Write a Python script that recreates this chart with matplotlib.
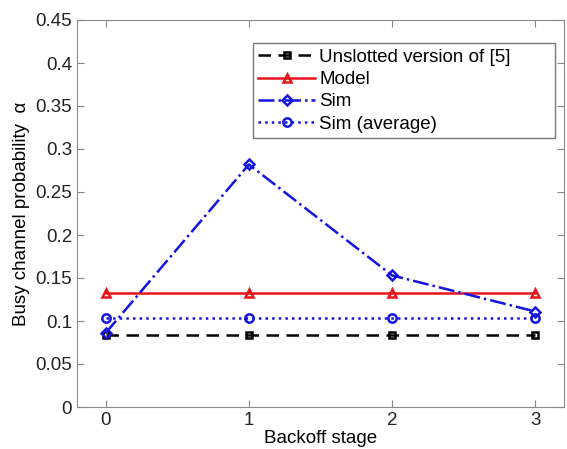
import numpy as np
from matplotlib import pyplot as plt

plt.rcParams['font.family'] = ['Liberation Sans', 'DejaVu Sans']

# backoff stages and busy channel probabilities
stages = [0, 1, 2, 3]
unslotted = [0.084, 0.084, 0.084, 0.084]
model = [0.132, 0.132, 0.132, 0.132]
sim = [0.086, 0.282, 0.153, 0.111]
sim_avg = [0.103, 0.103, 0.103, 0.103]

fig = plt.figure(figsize=(5.67, 4.49), dpi=100)
ax = fig.add_axes([77 / 567, 1 - 407 / 449, (564 - 77) / 567, (407 - 20) / 449])

ax.plot(stages, unslotted, '--s', color='black', lw=1.8, ms=5, mfc='none', mew=1.8,
        dashes=(5, 3), label='Unslotted version of [5]')
ax.plot(stages, model, '-^', color='#e8141c', lw=1.8, ms=6, mfc='none', mew=1.8,
        label='Model')
ax.plot(stages, sim, '-.D', color='#1414e0', lw=1.8, ms=5, mfc='none', mew=1.8,
        label='Sim')
ax.plot(stages, sim_avg, ':o', color='#1414e0', lw=1.8, ms=6, mfc='none', mew=1.8,
        label='Sim (average)')

ax.set_xlim(-0.2, 3.2)
ax.set_ylim(0, 0.45)
ax.set_xticks(stages)
ax.set_yticks(np.arange(0, 0.451, 0.05))
ax.set_yticklabels(['0', '0.05', '0.1', '0.15', '0.2', '0.25', '0.3', '0.35', '0.4', '0.45'])
ax.tick_params(direction='in', top=True, right=True, labelsize=13.5, colors='#222222',
               color='#888888', length=5)
for s in ax.spines.values():
    s.set_color('#888888')

ax.set_xlabel('Backoff stage', fontsize=13.5, labelpad=1)
ax.set_ylabel('Busy channel probability  α', fontsize=13.5, labelpad=4)

leg = ax.legend(loc='upper left', bbox_to_anchor=(0.361, 0.0, 0.62, 0.9406),
                mode='expand', fontsize=13.5,
                fancybox=False, framealpha=1, handlelength=3.0, borderpad=0.3,
                labelspacing=0.28, handletextpad=0.25, borderaxespad=0)
leg.get_frame().set_edgecolor('#777777')

fig.savefig('out.png', dpi=100)
